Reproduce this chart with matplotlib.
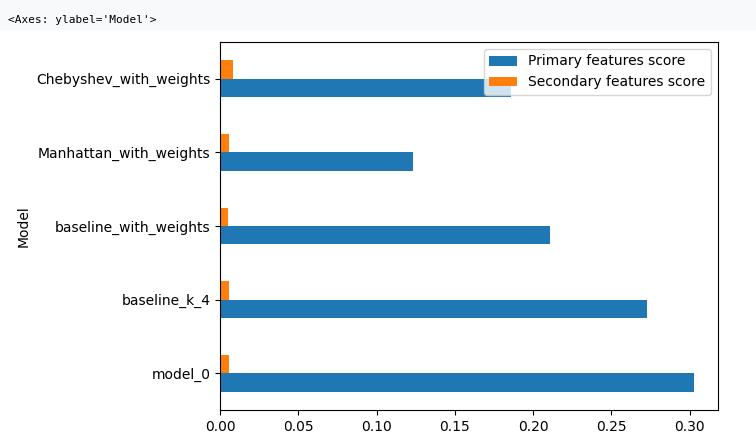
import pandas as pd
import matplotlib
matplotlib.use('Agg')
import matplotlib.pyplot as plt

models = ['model_0', 'baseline_k_4', 'baseline_with_weights', 'Manhattan_with_weights', 'Chebyshev_with_weights']
primary = [0.303, 0.273, 0.211, 0.123, 0.186]
secondary = [0.006, 0.006, 0.005, 0.006, 0.008]

df = pd.DataFrame({'Model': models,
                   'Primary features score': primary,
                   'Secondary features score': secondary}).set_index('Model')

fig = plt.figure(figsize=(7.56, 4.42), dpi=100)
fig.patches.append(plt.Rectangle((0, 0.935), 1, 0.065, transform=fig.transFigure,
                                 color='#f7f9fa', zorder=-1))
fig.text(0.01, 0.955, "<Axes: ylabel='Model'>", family='DejaVu Sans Mono', fontsize=8, va='center')
ax = fig.add_axes([220/756, 32/442, 498/756, 368/442])
df.plot.barh(ax=ax)
ax.legend(loc='upper right')
fig.savefig('out.png', dpi=100)
